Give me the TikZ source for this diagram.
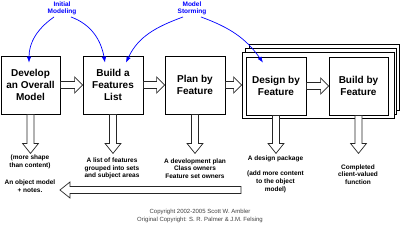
\documentclass[tikz,border=0pt]{standalone}
\usepackage{fontspec}
\setmainfont{Liberation Sans}
\usetikzlibrary{arrows.meta,calc}
\tikzset{
  stage/.style={draw=black, line width=0.8pt, fill=white, minimum height=58pt, inner sep=0pt, align=center, font=\fontsize{10}{12}\selectfont\bfseries},
  framebox/.style={draw=black, line width=0.8pt, fill=white, inner sep=0pt},
  blk/.style={draw=black!85, fill=white, line width=0.7pt, line join=miter},
  lbl/.style={text=blue, align=center, inner sep=0pt, font=\fontsize{6.5}{7.5}\selectfont\bfseries},
  note/.style={align=center, inner sep=0pt, font=\fontsize{6.5}{7.7}\selectfont\bfseries},
  barr/.style={draw=blue, line width=0.7pt, -{Latex[length=6pt,width=4.5pt]}},
}
\newcommand{\blkright}[2]{\draw[blk] let \p1=#1, \p2=#2 in (\x1,\y2-3.5pt) -- (\x2-8pt,\y2-3.5pt) -- (\x2-8pt,\y2-8pt) -- (\x2,\y2) -- (\x2-8pt,\y2+8pt) -- (\x2-8pt,\y2+3.5pt) -- (\x1,\y2+3.5pt) -- cycle;}
\newcommand{\blkleft}[2]{\draw[blk] let \p1=#1, \p2=#2 in (\x1,\y2-3.5pt) -- (\x2+10pt,\y2-3.5pt) -- (\x2+10pt,\y2-8pt) -- (\x2,\y2) -- (\x2+10pt,\y2+8pt) -- (\x2+10pt,\y2+3.5pt) -- (\x1,\y2+3.5pt) -- cycle;}
\newcommand{\blkdown}[2]{\draw[blk] let \p1=#1, \p2=#2 in (\x1-3.5pt,\y1) -- (\x1-3.5pt,\y2+10pt) -- (\x1-8pt,\y2+10pt) -- (\x1,\y2) -- (\x1+8pt,\y2+10pt) -- (\x1+3.5pt,\y2+10pt) -- (\x1+3.5pt,\y1) -- cycle;}
\begin{document}
\begin{tikzpicture}[x=1pt,y=-1pt]
\useasboundingbox (0,0) rectangle (400,225);
% stacked frames
\node[framebox, minimum width=150pt, minimum height=66pt] (f3) at (324,77) {};
\node[framebox, minimum width=151pt, minimum height=66pt] (f2) at (320.5,81) {};
\node[framebox, minimum width=152pt, minimum height=66pt] (f1) at (318,85) {};
% stages
\node[stage, minimum width=59pt] (b1) at (30.5,85) {Develop\\an Overall\\Model};
\node[stage, minimum width=60pt] (b2) at (113,85) {Build a\\Features\\List};
\node[stage, minimum width=60pt] (b3) at (195,85) {Plan by\\Feature};
\node[stage, minimum width=60pt] (b4) at (276,86) {Design by\\Feature};
\node[stage, minimum width=59pt] (b5) at (358.5,86) {Build by\\Feature};
% horizontal block arrows
\blkright{(b1.east)}{(b2.west)}
\blkright{(b2.east)}{(b3.west)}
\blkright{(b3.east)}{(f1.west)}
\blkright{(b4.east)}{(b5.west)}
% down block arrows
\blkdown{(b1.south)}{($(b1.south)+(0,39)$)}
\blkdown{(b2.south)}{($(b2.south)+(0,39)$)}
\blkdown{(b3.south)}{($(b3.south)+(0,39)$)}
\blkdown{(b4.south)}{($(b4.south)+(0,38)$)}
\blkdown{(b5.south)}{($(b5.south)+(0,38)$)}
% notes
\node[note] (t1a) at (30,162) {(more shape\\than content)};
\node[note] (t1b) at (30,186) {An object model\\+ notes.};
\node[note] (t2) at (112,168.5) {A list of features\\grouped into sets\\and subject areas};
\node[note] (t3) at (195,168.5) {A development plan\\Class owners\\Feature set owners};
\node[note] (t4a) at (275.5,159) {A design package};
\node[note] (t4b) at (275.5,182) {(add more content\\to the object\\model)};
\node[note] (t5) at (358,174.5) {Completed\\client-valued\\function};
% feedback arrow
\blkleft{($(t4b.west)+(-6,0)$)}{($(t1b.east)+(4.5,4)$)}
% blue labels and arrows
\node[lbl] (l1) at (62,8.5) {Initial\\Modeling};
\node[lbl] (l2) at (192,8.5) {Model\\Storming};
\draw[barr] ($(l1.south)+(-8,1.5)$) to[out=215,in=90] ($(b1.north)+(-1.5,7)$);
\draw[barr] ($(l1.south)+(9,1.5)$) to[out=-20,in=100] ($(b2.north)+(-8,7)$);
\draw[barr] ($(l2.south)+(-9,1.5)$) to[out=200,in=65] ($(b2.north)+(13,7)$);
\draw[barr] ($(l2.south)+(9,1.5)$) to[out=-20,in=125] ($(b4.north)+(-13,6)$);
% copyright
\node[align=center, inner sep=0pt, text=black!75, font=\fontsize{6}{8}\selectfont] (cr) at (200,216) {Copyright 2002-2005 Scott W. Ambler\\Original Copyright: S. R. Palmer \& J.M. Felsing};
\end{tikzpicture}
\end{document}
